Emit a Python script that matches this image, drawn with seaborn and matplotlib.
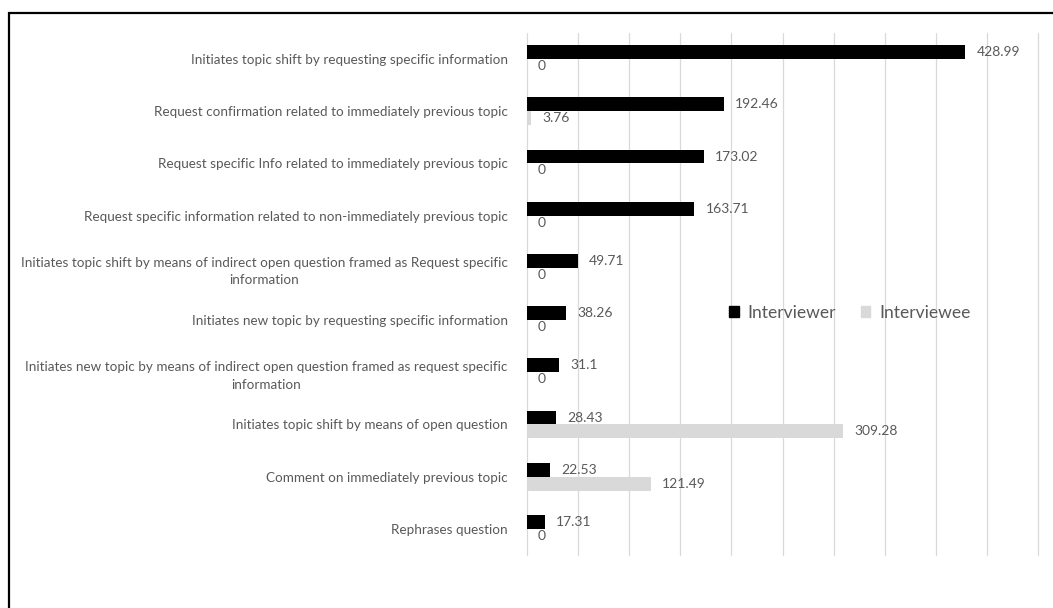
import textwrap
import matplotlib
matplotlib.use("Agg")
import matplotlib.pyplot as plt
import matplotlib.patches as mpatches
import pandas as pd
import seaborn as sns

categories = [
    "Initiates topic shift by requesting specific information",
    "Request confirmation related to immediately previous topic",
    "Request specific Info related to immediately previous topic",
    "Request specific information related to non-immediately previous topic",
    "Initiates topic shift by means of indirect open question framed as Request specific information",
    "Initiates new topic by requesting specific information",
    "Initiates new topic by means of indirect open question framed as request specific information",
    "Initiates topic shift by means of open question",
    "Comment on immediately previous topic",
    "Rephrases question",
]
interviewer = [428.99, 192.46, 173.02, 163.71, 49.71, 38.26, 31.1, 28.43, 22.53, 17.31]
interviewee = [0, 3.76, 0, 0, 0, 0, 0, 309.28, 121.49, 0]
series = ["Interviewer", "Interviewee"]
colors = ["#000000", "#d9d9d9"]

rows = []
for c, a, b in zip(categories, interviewer, interviewee):
    rows.append({"category": c, "series": series[0], "value": a})
    rows.append({"category": c, "series": series[1], "value": b})
df = pd.DataFrame(rows)

sns.set_theme(style="white")
plt.rcParams["font.family"] = ["Lato", "DejaVu Sans"]

fig = plt.figure(figsize=(10.53, 6.08), dpi=100)
ax = fig.add_axes([527 / 1053, 1 - 555 / 608, (1038 - 527) / 1053, (555 - 33) / 608])

sns.barplot(data=df, y="category", x="value", hue="series", hue_order=series,
            order=categories, palette=colors, orient="h", width=0.535,
            gap=0, linewidth=0, saturation=1, errorbar=None, ax=ax, zorder=3)

ax.set_xlim(0, 500)
ax.set_ylim(len(categories) - 0.5, -0.5)
ax.set_xticks(range(0, 501, 50))
ax.set_xticklabels([])
ax.tick_params(axis="x", length=0)
ax.tick_params(axis="y", length=0, pad=14)
ax.grid(axis="x", color="#d9d9d9", linewidth=0.9, zorder=0)
for gl in ax.get_xgridlines():
    gl.set_clip_on(False)
ax.grid(axis="y", visible=False)
for s in ax.spines.values():
    s.set_visible(False)
ax.set_xlabel("")
ax.set_ylabel("")

ax.set_yticks(range(len(categories)))
ax.set_yticklabels([textwrap.fill(c, 83) for c in categories], fontsize=9.7, color="#595959")
for t in ax.get_yticklabels():
    t.set_multialignment("center")
    t.set_linespacing(1.55)

for cont, vals in zip(ax.containers, [interviewer, interviewee]):
    ax.bar_label(cont, labels=[f"{v:g}" for v in vals], padding=8,
                 fontsize=10, color="#595959")

handles = [mpatches.Patch(color=col, label=lab) for col, lab in zip(colors, series)]
leg = ax.legend(handles=handles, loc="center", bbox_to_anchor=(0.632, 0.464), ncol=2,
                frameon=False, fontsize=12.6, labelcolor="#595959", handlelength=0.55,
                handleheight=0.55, handletextpad=0.5, columnspacing=1.4)

border = mpatches.Rectangle((9 / 1053, -0.05), 1.1, 1 - 13 / 608 + 0.05,
                            transform=fig.transFigure, fill=False,
                            edgecolor="#000000", linewidth=1.6, clip_on=False)
fig.patches.append(border)

fig.savefig("out.png", dpi=100)
